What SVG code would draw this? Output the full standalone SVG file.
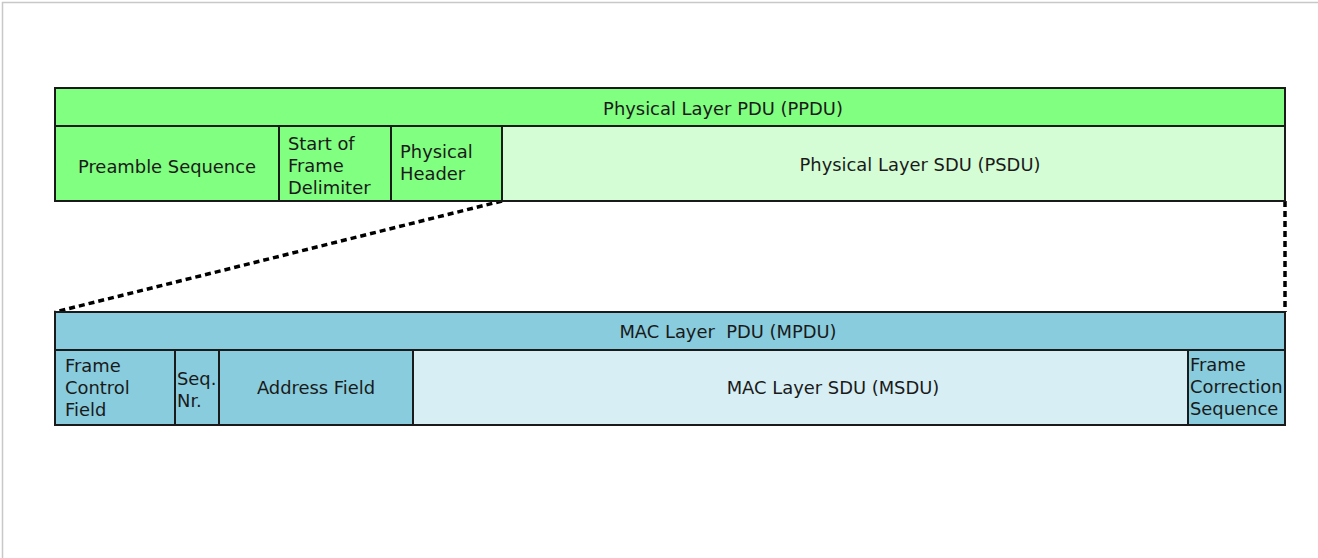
<svg xmlns="http://www.w3.org/2000/svg" width="1318" height="558" viewBox="0 0 1318 558">
<style>
text{font-family:"DejaVu Sans","Liberation Sans",sans-serif;font-size:17.9px;fill:#1a1a1a}
.c{text-anchor:middle}
.box{stroke:#1a1a1a;stroke-width:2}
.g{fill:#80ff80}
.lg{fill:#d5fdd5}
.b{fill:#88ccdd}
.lb{fill:#d7eef4}
.dash{fill:none;stroke:#000;stroke-width:3.5;stroke-dasharray:6 4}
</style>
<rect width="1318" height="558" fill="#fff"/>
<path d="M2.5 558V2.5H1318" fill="none" stroke="#c8c8c8" stroke-width="1.5"/>
<g id="connectors">
<line class="dash" x1="502" y1="201" x2="55" y2="312"/>
<line class="dash" x1="1285" y1="201" x2="1285" y2="312"/>
</g>
<g id="ppdu">
<rect class="box g" x="55" y="88" width="1230" height="38"/>
<text class="c" x="723" y="115">Physical Layer PDU (PPDU)</text>
</g>
<g id="preamble">
<rect class="box g" x="55" y="126" width="224" height="75"/>
<text class="c" x="167" y="173">Preamble Sequence</text>
</g>
<g id="sfd">
<rect class="box g" x="279" y="126" width="112" height="75"/>
<text x="288" y="150">Start of</text><text x="288" y="172">Frame</text><text x="288" y="194">Delimiter</text>
</g>
<g id="phy-header">
<rect class="box g" x="391" y="126" width="111" height="75"/>
<text x="400" y="158">Physical</text><text x="400" y="180">Header</text>
</g>
<g id="psdu">
<rect class="box lg" x="502" y="126" width="783" height="75"/>
<text class="c" x="920" y="171">Physical Layer SDU (PSDU)</text>
</g>
<g id="mpdu">
<rect class="box b" x="55" y="312" width="1230" height="38"/>
<text class="c" x="728" y="338" xml:space="preserve">MAC Layer  PDU (MPDU)</text>
</g>
<g id="fcf">
<rect class="box b" x="55" y="350" width="120" height="75"/>
<text x="65" y="372">Frame</text><text x="65" y="394">Control</text><text x="65" y="416">Field</text>
</g>
<g id="seq">
<rect class="box b" x="175" y="350" width="44" height="75"/>
<text x="177" y="385">Seq.</text><text x="177" y="407">Nr.</text>
</g>
<g id="address">
<rect class="box b" x="219" y="350" width="194" height="75"/>
<text class="c" x="316" y="394">Address Field</text>
</g>
<g id="msdu">
<rect class="box lb" x="413" y="350" width="775" height="75"/>
<text class="c" x="833" y="394">MAC Layer SDU (MSDU)</text>
</g>
<g id="fcs">
<rect class="box b" x="1188" y="350" width="97" height="75"/>
<text x="1190" y="371">Frame</text><text x="1190" y="393">Correction</text><text x="1190" y="415">Sequence</text>
</g>
</svg>
